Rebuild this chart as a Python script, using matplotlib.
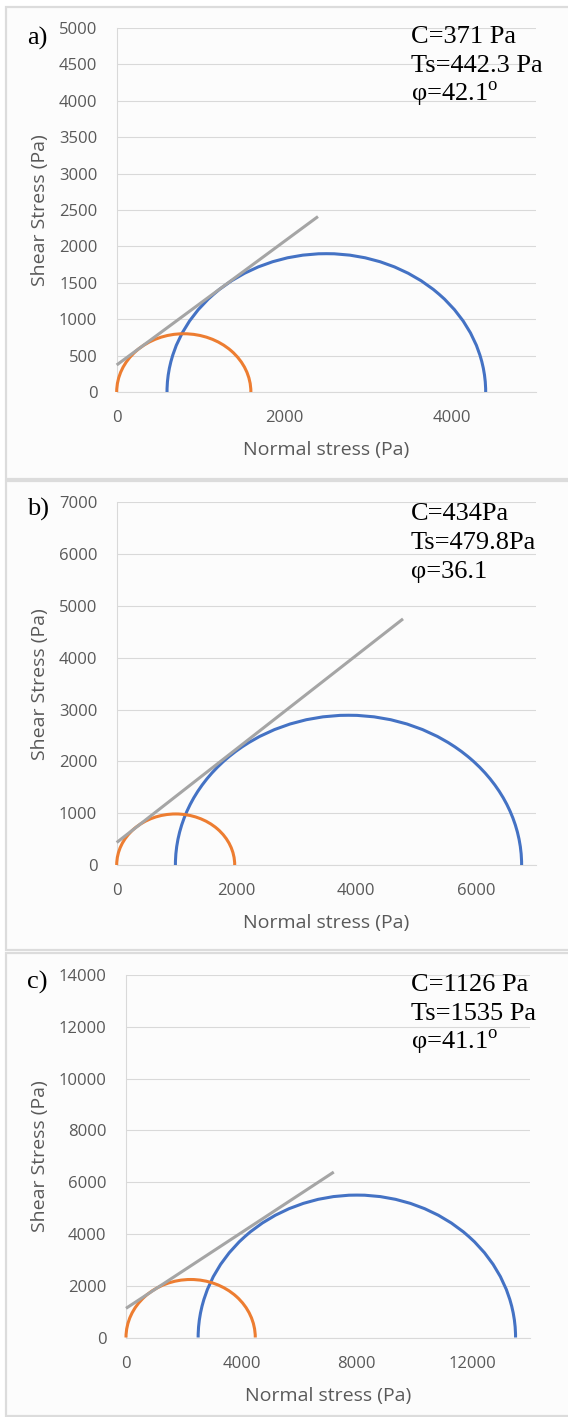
import numpy as np
import matplotlib
matplotlib.use('Agg')
import matplotlib.pyplot as plt
from matplotlib.patches import Arc, Rectangle
from matplotlib.ticker import MultipleLocator

# --- Data ---
panel_labels = ['a)', 'b)', 'c)']
x_max = [5000, 7000, 14000]
y_max = [5000, 7000, 14000]
x_ticks = [[0, 2000, 4000], [0, 2000, 4000, 6000], [0, 4000, 8000, 12000]]
y_step = [500, 1000, 2000]

# small circle (orange): sigma3, sigma1
small_s3 = [0, 0, 0]
small_s1 = [1600, 1970, 4480]
# big circle (blue)
big_s3 = [600, 980, 2500]
big_s1 = [4400, 6760, 13500]
# failure envelope (gray), two points each
env_x = [[0, 2400], [0, 4780], [0, 7200]]
env_y = [[371, 2410], [434, 4750], [1126, 6390]]

notes = [
    ['C=371 Pa', 'Ts=442.3 Pa', r'φ=42.1$^{\mathrm{o}}$'],
    ['C=434Pa', 'Ts=479.8Pa', 'φ=36.1'],
    ['C=1126 Pa', 'Ts=1535 Pa', r'φ=41.1$^{\mathrm{o}}$'],
]

# --- Layout (pixels of the 568x1417 picture) ---
W, H = 568, 1417
axes_px = [(116.7, 28, 536, 392), (116.7, 502.3, 536, 865), (126, 975, 530, 1337.5)]
frames_px = [(6, 7, 600, 479), (6, 481, 600, 950), (6, 953, 600, 1416)]
label_y_px = [38, 509, 982]
note_top_px = [25, 502, 973]

BLUE = '#4472C4'
ORANGE = '#ED7D31'
GRAY = '#A5A5A5'
GRID = '#D9D9D9'
TXT = '#595959'

plt.rcParams['mathtext.fontset'] = 'custom'
plt.rcParams['mathtext.rm'] = 'Liberation Serif'


def fx(x):
    return x / W


def fy(y):
    return 1 - y / H


fig = plt.figure(figsize=(W / 100, H / 100), dpi=100)
fig.patch.set_facecolor('white')

for i in range(3):
    # panel frame
    l, t, r, b = frames_px[i]
    fig.add_artist(Rectangle((fx(l), fy(b)), fx(r - l), (b - t) / H, transform=fig.transFigure,
                             facecolor='#FCFCFC', edgecolor='#DCDCDC', lw=1.6, zorder=-5))

    l, t, r, b = axes_px[i]
    ax = fig.add_axes([fx(l), fy(b), fx(r - l), (b - t) / H])
    ax.set_facecolor('none')

    ax.add_patch(Arc(((big_s1[i] + big_s3[i]) / 2, 0), big_s1[i] - big_s3[i], big_s1[i] - big_s3[i],
                     theta1=0, theta2=180, color=BLUE, lw=2.2, zorder=3, clip_on=False))
    ax.add_patch(Arc(((small_s1[i] + small_s3[i]) / 2, 0), small_s1[i] - small_s3[i], small_s1[i] - small_s3[i],
                     theta1=0, theta2=180, color=ORANGE, lw=2.2, zorder=3.1, clip_on=False))
    ax.plot(env_x[i], env_y[i], color=GRAY, lw=2.2, zorder=3.2, solid_capstyle='butt', clip_on=False)

    ax.set_xlim(0, x_max[i])
    ax.set_ylim(0, y_max[i])
    ax.set_xticks(x_ticks[i])
    ax.yaxis.set_major_locator(MultipleLocator(y_step[i]))
    ax.grid(axis='y', color=GRID, lw=0.8)
    ax.set_axisbelow(True)
    for s in ['top', 'right']:
        ax.spines[s].set_visible(False)
    for s in ['left', 'bottom']:
        ax.spines[s].set_color(GRID)
        ax.spines[s].set_linewidth(0.8)
    ax.tick_params(length=0, labelsize=12, labelcolor=TXT)
    ax.tick_params(axis='y', pad=14)
    ax.tick_params(axis='x', pad=13)
    for lab in ax.get_xticklabels() + ax.get_yticklabels():
        lab.set_family('Open Sans')

    ax.set_xlabel('Normal stress (Pa)', fontsize=14, color=TXT, family='Open Sans', va='center')
    ax.xaxis.set_label_coords(0.5, -58 / (b - t))
    ax.set_ylabel('Shear Stress (Pa)', fontsize=14, color=TXT, family='Open Sans', va='center')
    ax.yaxis.set_label_coords((40 - l) / (r - l), 0.5)

    fig.text(fx(27), fy(label_y_px[i]), panel_labels[i], fontsize=19, family='Liberation Serif',
             va='center', ha='left')
    for k, line in enumerate(notes[i]):
        fig.text(fx(411), fy(note_top_px[i] + 18 + 29 * k), line, fontsize=19,
                 family='Liberation Serif', va='baseline', ha='left')

fig.savefig('out.png', dpi=100)
